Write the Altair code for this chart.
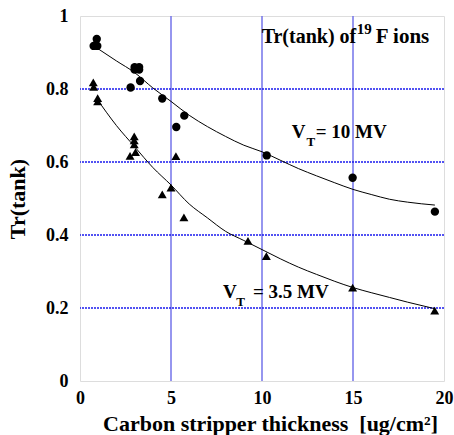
import altair as alt
import pandas as pd

# ---- data ----
x_10mv = [0.75, 0.85, 0.95, 0.92, 2.78, 3.0, 3.25, 3.0, 3.25, 3.3, 4.52, 5.29, 5.73, 10.26, 14.98, 19.5]
tr_10mv = [0.918, 0.92, 0.918, 0.937, 0.804, 0.860, 0.860, 0.853, 0.853, 0.822, 0.774, 0.696, 0.727, 0.618, 0.557, 0.464]

x_35mv = [0.73, 0.75, 0.97, 0.97, 2.98, 2.98, 2.98, 2.75, 3.05, 4.52, 5.0, 5.27, 5.71, 9.23, 10.24, 14.98, 19.49]
tr_35mv = [0.818, 0.806, 0.775, 0.766, 0.670, 0.659, 0.648, 0.617, 0.627, 0.511, 0.530, 0.616, 0.448, 0.384, 0.342, 0.256, 0.193]

fit_x_10mv = [1.0, 2.0, 3.0, 4.0, 5.0, 6.0, 7.0, 8.0, 9.0, 10.0, 11.0, 12.0, 13.0, 14.0, 15.0, 16.0, 17.0, 18.0, 19.5]
fit_10mv = [0.910, 0.877, 0.845, 0.803, 0.766, 0.728, 0.697, 0.670, 0.646, 0.628, 0.605, 0.582, 0.562, 0.543, 0.525, 0.511, 0.498, 0.490, 0.482]

fit_x_35mv = [0.9, 2.0, 3.0, 4.0, 5.0, 6.0, 7.0, 8.0, 9.0, 10.0, 11.0, 12.0, 13.0, 14.0, 15.0, 16.0, 17.0, 18.0, 19.5]
fit_35mv = [0.775, 0.700, 0.642, 0.585, 0.537, 0.485, 0.447, 0.410, 0.385, 0.360, 0.335, 0.312, 0.292, 0.273, 0.256, 0.242, 0.229, 0.216, 0.198]

x_ticks = [0, 5, 10, 15, 20]
y_ticks = [0, 0.2, 0.4, 0.6, 0.8, 1]
x_grid = [5, 10, 15]
y_grid = [0.2, 0.4, 0.6, 0.8]

FONT = "Liberation Serif"
xs = alt.Scale(domain=[0, 20], nice=False, zero=False)
ys = alt.Scale(domain=[0, 1], nice=False, zero=False)

pts10 = pd.DataFrame({"x": x_10mv, "y": tr_10mv})
pts35 = pd.DataFrame({"x": x_35mv, "y": tr_35mv})
fit10 = pd.DataFrame({"x": fit_x_10mv, "y": fit_10mv})
fit35 = pd.DataFrame({"x": fit_x_35mv, "y": fit_35mv})

x_axis = alt.Axis(values=x_ticks, grid=False, ticks=False, domain=False,
                  labelFont=FONT, labelFontSize=18, labelFontWeight="bold", labelColor="black",
                  labelPadding=8, labelFlush=False,
                  title="Carbon stripper thickness \u00a0[ug/cm\u00b2]", titleFont=FONT, titleFontSize=22,
                  titleFontWeight="bold", titleColor="black", titlePadding=6, titleX=190)
y_axis = alt.Axis(values=y_ticks, grid=False, ticks=False, domain=False, format="g",
                  labelFont=FONT, labelFontSize=18, labelFontWeight="bold", labelColor="black",
                  labelPadding=12, labelFlush=False,
                  title="Tr(tank)", titleFont=FONT, titleFontSize=22, titleFontWeight="bold",
                  titleColor="black", titlePadding=16)

gx = alt.Chart(pd.DataFrame({"g": x_grid})).mark_rule(color="#7373ea", strokeWidth=1.5).encode(
    x=alt.X("g:Q", scale=xs, axis=x_axis))
gy = alt.Chart(pd.DataFrame({"g": y_grid})).mark_rule(color="#1a1aee", strokeWidth=1.5, strokeDash=[2, 1]).encode(
    y=alt.Y("g:Q", scale=ys, axis=y_axis))

line10 = alt.Chart(fit10).mark_line(color="black", strokeWidth=1, interpolate="monotone").encode(
    x=alt.X("x:Q", scale=xs), y=alt.Y("y:Q", scale=ys))
line35 = alt.Chart(fit35).mark_line(color="black", strokeWidth=1, interpolate="monotone").encode(
    x=alt.X("x:Q", scale=xs), y=alt.Y("y:Q", scale=ys))

dots = alt.Chart(pts10).mark_point(shape="circle", filled=True, color="black", opacity=1, size=70).encode(
    x=alt.X("x:Q", scale=xs), y=alt.Y("y:Q", scale=ys))
tris = alt.Chart(pts35).mark_point(shape="triangle-up", filled=True, color="black", opacity=1, size=80).encode(
    x=alt.X("x:Q", scale=xs), y=alt.Y("y:Q", scale=ys))


def label(text, x, y, size=19, dy=0):
    return alt.Chart().mark_text(text=text, font=FONT, fontSize=size, fontWeight="bold", color="black",
                                 align="left", baseline="alphabetic", dy=dy).encode(
        x=alt.datum(x, scale=xs), y=alt.datum(y, scale=ys))


texts = [
    label("Tr(tank) of", 9.98, 0.926, size=20),
    label("19", 15.2, 0.926, size=15, dy=-9),
    label("F ions", 16.25, 0.926, size=21),
    label("V", 11.63, 0.666),
    label("T", 12.45, 0.666, size=13, dy=8),
    label("= 10 MV", 12.95, 0.666),
    label("V", 7.86, 0.227),
    label("T", 8.58, 0.227, size=13, dy=8),
    label("= 3.5 MV", 9.5, 0.227),
]

chart = alt.layer(gx, gy, line10, line35, dots, tris, *texts).properties(
    width=364, height=365,
    autosize=alt.AutoSizeParams(type="none"),
    padding={"left": 80, "top": 16, "right": 10, "bottom": 54},
).configure_view(stroke="#0000dd", strokeWidth=2.5).configure(background="white")

chart.save("out.html", embed_options={"renderer": "svg", "actions": False})
